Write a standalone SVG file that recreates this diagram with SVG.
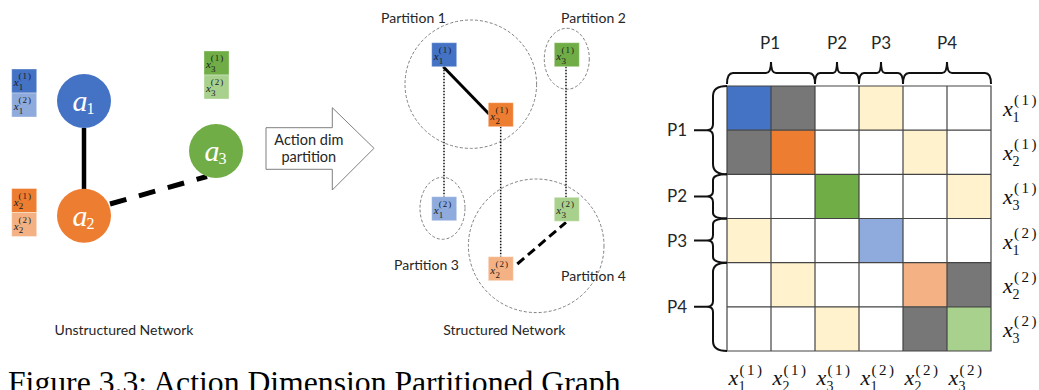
<svg xmlns="http://www.w3.org/2000/svg" width="1039" height="390" viewBox="0 0 1039 390">
<defs>
<style>
.lbl{font-family:Lato,"Liberation Sans",sans-serif;fill:#262626}
.mi{font-family:"Liberation Serif",serif;font-style:italic}
.mn{font-family:"Liberation Serif",serif}
.bx{font-size:11px;fill:#1a1a1a}
.bs{font-size:9px;fill:#1a1a1a}
.bsp{font-size:9px;fill:#1a1a1a;letter-spacing:1px}
.cw{fill:#ffffff}
.ax{font-size:22px;fill:#111}
.as{font-size:14px;fill:#111}
.asp{font-size:15px;fill:#111;letter-spacing:2.5px}
.part{fill:none;stroke:#7f7f7f;stroke-width:1;stroke-dasharray:3 2}
.dot{stroke:#111;stroke-width:1.5;stroke-dasharray:1.5 1.5;fill:none}
.brace{fill:none;stroke:#111;stroke-width:2}
.grid{stroke:#444;stroke-width:1.2;fill:none}
.blue{fill:#4472C4}.lblue{fill:#8FAADC}.org{fill:#ED7D31}.lorg{fill:#F4B183}
.grn{fill:#70AD47}.lgrn{fill:#A9D18E}.yel{fill:#FFF2CC}.gry{fill:#777777}
.sbox{stroke:#ffffff;stroke-opacity:0.35;stroke-width:1}
</style>
</defs>

<!-- ===== Unstructured network ===== -->
<g id="connectors-left">
<line x1="84" y1="128" x2="84" y2="190" stroke="#000" stroke-width="4.5"/>
<line x1="110" y1="204" x2="207" y2="176.5" stroke="#000" stroke-width="5" stroke-dasharray="17 13"/>
</g>

<g id="node-a1">
<circle cx="84" cy="101" r="27" class="blue"/>
<text x="72.5" y="111" class="mi cw" font-size="30">a</text>
<text x="86.5" y="114" class="mn cw" font-size="16">1</text>
</g>
<g id="node-a2">
<circle cx="84" cy="215.7" r="27" class="org"/>
<text x="72.5" y="226" class="mi cw" font-size="30">a</text>
<text x="86.5" y="229" class="mn cw" font-size="16">2</text>
</g>
<g id="node-a3">
<circle cx="216" cy="151" r="27" class="grn"/>
<text x="204.5" y="161" class="mi cw" font-size="30">a</text>
<text x="218.5" y="164" class="mn cw" font-size="16">3</text>
</g>

<g id="stack-x1">
<rect x="11.7" y="69" width="25" height="24" class="blue sbox"/>
<rect x="11.7" y="93" width="25" height="24" class="lblue sbox"/>
<text x="13.7" y="86" class="mi bx">x</text><text x="18.5" y="79" class="mn bsp">(1)</text><text x="18.8" y="89.5" class="mn bs">1</text>
<text x="13.7" y="110" class="mi bx">x</text><text x="18.5" y="103" class="mn bsp">(2)</text><text x="18.8" y="113.5" class="mn bs">1</text>
</g>
<g id="stack-x2">
<rect x="11.7" y="188.5" width="25" height="24" class="org sbox"/>
<rect x="11.7" y="212.5" width="25" height="24" class="lorg sbox"/>
<text x="13.7" y="205.5" class="mi bx">x</text><text x="18.5" y="198.5" class="mn bsp">(1)</text><text x="18.8" y="209" class="mn bs">2</text>
<text x="13.7" y="229.5" class="mi bx">x</text><text x="18.5" y="222.5" class="mn bsp">(2)</text><text x="18.8" y="233" class="mn bs">2</text>
</g>
<g id="stack-x3">
<rect x="204" y="51" width="25" height="24" class="grn sbox"/>
<rect x="204" y="75" width="25" height="24" class="lgrn sbox"/>
<text x="206" y="68" class="mi bx">x</text><text x="210.8" y="61" class="mn bsp">(1)</text><text x="211.1" y="71.5" class="mn bs">3</text>
<text x="206" y="92" class="mi bx">x</text><text x="210.8" y="85" class="mn bsp">(2)</text><text x="211.1" y="95.5" class="mn bs">3</text>
</g>

<text x="124" y="335" class="lbl" font-size="14" text-anchor="middle">Unstructured Network</text>

<!-- ===== Arrow ===== -->
<g id="arrow">
<polygon points="266,127.7 332.3,127.7 332.3,107.7 374,148.3 332.3,190 332.3,169.3 266,169.3" fill="#fff" stroke="#7f7f7f" stroke-width="1"/>
<text x="308.8" y="144.5" class="lbl" font-size="14.5" text-anchor="middle">Action dim</text>
<text x="308.8" y="162" class="lbl" font-size="14.5" text-anchor="middle">partition</text>
</g>

<!-- ===== Structured network ===== -->
<g id="partitions">
<ellipse cx="470.8" cy="84.2" rx="65.8" ry="64.2" class="part"/>
<ellipse cx="566.8" cy="58.8" rx="22.5" ry="30.5" class="part"/>
<ellipse cx="442.5" cy="208.3" rx="22.5" ry="31" class="part"/>
<ellipse cx="536.2" cy="245.8" rx="67.8" ry="66.8" class="part"/>
<text x="381" y="23.3" class="lbl" font-size="14">Partition 1</text>
<text x="561" y="23.3" class="lbl" font-size="14">Partition 2</text>
<text x="394" y="269.5" class="lbl" font-size="14">Partition 3</text>
<text x="561" y="281" class="lbl" font-size="14">Partition 4</text>
</g>

<g id="connectors-mid">
<line x1="444" y1="66.7" x2="444" y2="196.7" class="dot"/>
<line x1="500.7" y1="126.7" x2="500.7" y2="256.7" class="dot"/>
<line x1="566" y1="66.7" x2="566" y2="197.3" class="dot"/>
<line x1="443.3" y1="66.7" x2="489.3" y2="114.3" stroke="#000" stroke-width="3"/>
<line x1="517.3" y1="264" x2="566" y2="222.3" stroke="#000" stroke-width="3" stroke-dasharray="9 5"/>
</g>

<g id="node-x1-1">
<rect x="431.7" y="42.7" width="25" height="24" class="blue sbox"/>
<text x="433.7" y="59.5" class="mi bx">x</text><text x="438.8" y="52.5" class="mn bsp">(1)</text><text x="438.8" y="63.5" class="mn bs">1</text>
</g>
<g id="node-x2-1">
<rect x="488.3" y="102.7" width="25" height="24" class="org sbox"/>
<text x="490.3" y="119.5" class="mi bx">x</text><text x="495.4" y="112.5" class="mn bsp">(1)</text><text x="495.4" y="123.5" class="mn bs">2</text>
</g>
<g id="node-x3-1">
<rect x="554.3" y="42.7" width="25" height="24" class="grn sbox"/>
<text x="556.3" y="59.5" class="mi bx">x</text><text x="561.4" y="52.5" class="mn bsp">(1)</text><text x="561.4" y="63.5" class="mn bs">3</text>
</g>
<g id="node-x1-2">
<rect x="431.7" y="196.7" width="25" height="24" class="lblue sbox"/>
<text x="433.7" y="213.5" class="mi bx">x</text><text x="438.8" y="206.5" class="mn bsp">(2)</text><text x="438.8" y="217.5" class="mn bs">1</text>
</g>
<g id="node-x3-2">
<rect x="554.3" y="197.3" width="25" height="24" class="lgrn sbox"/>
<text x="556.3" y="214" class="mi bx">x</text><text x="561.4" y="207" class="mn bsp">(2)</text><text x="561.4" y="218" class="mn bs">3</text>
</g>
<g id="node-x2-2">
<rect x="488.3" y="256.7" width="25" height="24" class="lorg sbox"/>
<text x="490.3" y="273.5" class="mi bx">x</text><text x="495.4" y="266.5" class="mn bsp">(2)</text><text x="495.4" y="277.5" class="mn bs">2</text>
</g>

<text x="504.3" y="335" class="lbl" font-size="14" text-anchor="middle">Structured Network</text>

<!-- ===== Matrix ===== -->
<g id="matrix">
<rect x="727" y="86" width="264" height="265" fill="#fff"/>
<rect x="727" y="86" width="44" height="44.17" class="blue"/>
<rect x="771" y="86" width="44" height="44.17" class="gry"/>
<rect x="859" y="86" width="44" height="44.17" class="yel"/>
<rect x="727" y="130.17" width="44" height="44.17" class="gry"/>
<rect x="771" y="130.17" width="44" height="44.17" class="org"/>
<rect x="903" y="130.17" width="44" height="44.17" class="yel"/>
<rect x="815" y="174.33" width="44" height="44.17" class="grn"/>
<rect x="947" y="174.33" width="44" height="44.17" class="yel"/>
<rect x="727" y="218.5" width="44" height="44.17" class="yel"/>
<rect x="859" y="218.5" width="44" height="44.17" class="lblue"/>
<rect x="771" y="262.67" width="44" height="44.17" class="yel"/>
<rect x="903" y="262.67" width="44" height="44.17" class="lorg"/>
<rect x="947" y="262.67" width="44" height="44.17" class="gry"/>
<rect x="815" y="306.83" width="44" height="44.17" class="yel"/>
<rect x="903" y="306.83" width="44" height="44.17" class="gry"/>
<rect x="947" y="306.83" width="44" height="44.17" class="lgrn"/>
<path class="grid" d="M727 86H991V351H727Z M771 86V351 M815 86V351 M859 86V351 M903 86V351 M947 86V351 M727 130.17H991 M727 174.33H991 M727 218.5H991 M727 262.67H991 M727 306.83H991"/>
</g>

<g id="top-braces">
<path class="brace" d="M727 84Q727 73 733 73L766 73Q771 73 771 62Q771 73 776 73L809 73Q815 73 815 84"/>
<path class="brace" d="M815 84Q815 73 820 73L833 73Q837 73 837 62Q837 73 841 73L854 73Q859 73 859 84"/>
<path class="brace" d="M859 84Q859 73 864 73L877 73Q881 73 881 62Q881 73 885 73L898 73Q903 73 903 84"/>
<path class="brace" d="M903 84Q903 73 909 73L942 73Q947 73 947 62Q947 73 952 73L985 73Q991 73 991 84"/>
<text x="770" y="49" class="lbl" font-size="17" text-anchor="middle">P1</text>
<text x="837" y="49" class="lbl" font-size="17" text-anchor="middle">P2</text>
<text x="881" y="49" class="lbl" font-size="17" text-anchor="middle">P3</text>
<text x="947" y="49" class="lbl" font-size="17" text-anchor="middle">P4</text>
</g>

<g id="left-braces">
<path class="brace" d="M727 86Q713 86 713 96L713 124Q713 130.2 707 130.2Q713 130.2 713 136L713 164Q713 174.3 727 174.3"/>
<path class="brace" d="M727 174.3Q713 174.3 713 180L713 191Q713 196.4 707 196.4Q713 196.4 713 202L713 213Q713 218.5 727 218.5"/>
<path class="brace" d="M727 218.5Q713 218.5 713 224L713 235Q713 240.6 707 240.6Q713 240.6 713 246L713 257Q713 262.7 727 262.7"/>
<path class="brace" d="M727 262.7Q713 262.7 713 272L713 301Q713 306.8 707 306.8Q713 306.8 713 312L713 341Q713 351 727 351"/>
<path class="brace" d="M694 130.2H707 M694 196.4H707 M694 240.6H707 M694 306.8H707"/>
<text x="667" y="136.2" class="lbl" font-size="17">P1</text>
<text x="667" y="202.4" class="lbl" font-size="17">P2</text>
<text x="667" y="246.6" class="lbl" font-size="17">P3</text>
<text x="667" y="312.8" class="lbl" font-size="17">P4</text>
</g>

<g id="row-labels">
<text x="1003" y="116.1" class="mi ax">x</text><text x="1014" y="105.1" class="mn asp">(1)</text><text x="1012.5" y="122.1" class="mn as">1</text>
<text x="1003" y="160.3" class="mi ax">x</text><text x="1014" y="149.3" class="mn asp">(1)</text><text x="1012.5" y="166.3" class="mn as">2</text>
<text x="1003" y="204.4" class="mi ax">x</text><text x="1014" y="193.4" class="mn asp">(1)</text><text x="1012.5" y="210.4" class="mn as">3</text>
<text x="1003" y="248.6" class="mi ax">x</text><text x="1014" y="237.6" class="mn asp">(2)</text><text x="1012.5" y="254.6" class="mn as">1</text>
<text x="1003" y="292.8" class="mi ax">x</text><text x="1014" y="281.8" class="mn asp">(2)</text><text x="1012.5" y="298.8" class="mn as">2</text>
<text x="1003" y="336.9" class="mi ax">x</text><text x="1014" y="325.9" class="mn asp">(2)</text><text x="1012.5" y="342.9" class="mn as">3</text>
</g>

<g id="col-labels">
<text x="728.5" y="385" class="mi ax">x</text><text x="739.5" y="375" class="mn asp">(1)</text><text x="738.5" y="391" class="mn as">1</text>
<text x="772.5" y="385" class="mi ax">x</text><text x="783.5" y="375" class="mn asp">(1)</text><text x="782.5" y="391" class="mn as">2</text>
<text x="816.5" y="385" class="mi ax">x</text><text x="827.5" y="375" class="mn asp">(1)</text><text x="826.5" y="391" class="mn as">3</text>
<text x="860.5" y="385" class="mi ax">x</text><text x="871.5" y="375" class="mn asp">(2)</text><text x="870.5" y="391" class="mn as">1</text>
<text x="904.5" y="385" class="mi ax">x</text><text x="915.5" y="375" class="mn asp">(2)</text><text x="914.5" y="391" class="mn as">2</text>
<text x="948.5" y="385" class="mi ax">x</text><text x="959.5" y="375" class="mn asp">(2)</text><text x="958.5" y="391" class="mn as">3</text>
</g>

<text x="8" y="393" font-family="'Liberation Serif',serif" font-size="31.7" fill="#000">Figure 3.3: Action Dimension Partitioned Graph</text>
</svg>
